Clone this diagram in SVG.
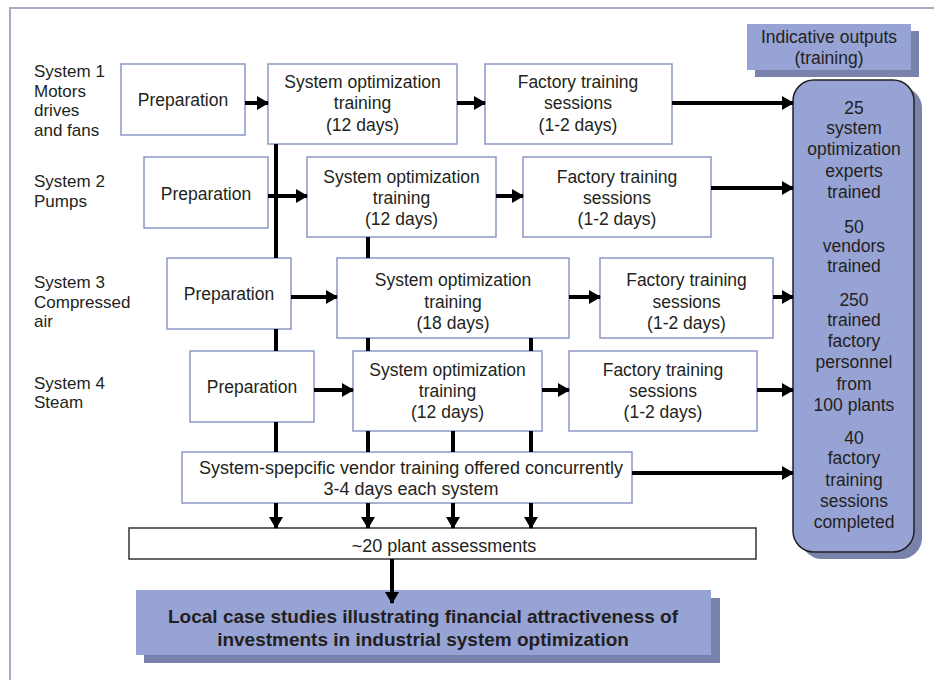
<svg xmlns="http://www.w3.org/2000/svg" width="934" height="680" viewBox="0 0 934 680">
<defs>
<style>
text{font-family:"Liberation Sans",Arial,sans-serif;font-size:17.5px;fill:#231f20;}
.c{text-anchor:middle;}
.lbl{font-size:17px;}
.box{fill:#ffffff;stroke:#8c97c8;stroke-width:1.5;}
.blue{fill:#97a3d4;}
.shadow{fill:#7882ab;}
.conn{fill:none;stroke:#000;stroke-width:4;marker-end:url(#arr);}
.b{font-weight:bold;font-size:19px;}
</style>
<marker id="arr" markerUnits="userSpaceOnUse" markerWidth="12" markerHeight="14" refX="11" refY="7" orient="auto">
<path d="M0,0 L12,7 L0,14 z" fill="#000"/>
</marker>
</defs>
<rect width="934" height="680" fill="#fff"/>
<path d="M10,680 V8 H934" fill="none" stroke="#a9aacb" stroke-width="2"/>

<g id="labels">
<text class="lbl" x="34" y="77">System 1</text>
<text class="lbl" x="34" y="96.5">Motors</text>
<text class="lbl" x="34" y="116">drives</text>
<text class="lbl" x="34" y="135.5">and fans</text>
<text class="lbl" x="34" y="187">System 2</text>
<text class="lbl" x="34" y="206.5">Pumps</text>
<text class="lbl" x="34" y="288">System 3</text>
<text class="lbl" x="34" y="307.5">Compressed</text>
<text class="lbl" x="34" y="327">air</text>
<text class="lbl" x="34" y="388.5">System 4</text>
<text class="lbl" x="34" y="408">Steam</text>
</g>

<g id="prep1"><rect class="box" x="121" y="64" width="124" height="71"/><text class="c" x="183" y="106">Preparation</text></g>
<g id="opt1"><rect class="box" x="268" y="64" width="189" height="80"/><text class="c" x="362.5" y="88">System optimization</text><text class="c" x="362.5" y="109">training</text><text class="c" x="362.5" y="131">(12 days)</text></g>
<g id="fact1"><rect class="box" x="485" y="64" width="187" height="80"/><text class="c" x="578" y="88">Factory training</text><text class="c" x="578" y="109">sessions</text><text class="c" x="578" y="131">(1-2 days)</text></g>

<g id="prep2"><rect class="box" x="144" y="157" width="124" height="71"/><text class="c" x="206" y="200">Preparation</text></g>
<g id="opt2"><rect class="box" x="307" y="157" width="189" height="80"/><text class="c" x="401.5" y="183">System optimization</text><text class="c" x="401.5" y="204">training</text><text class="c" x="401.5" y="225">(12 days)</text></g>
<g id="fact2"><rect class="box" x="523" y="157" width="188" height="80"/><text class="c" x="617" y="183">Factory training</text><text class="c" x="617" y="204">sessions</text><text class="c" x="617" y="225">(1-2 days)</text></g>

<g id="prep3"><rect class="box" x="167" y="258" width="124" height="71"/><text class="c" x="229" y="300">Preparation</text></g>
<g id="opt3"><rect class="box" x="337" y="258" width="232" height="80"/><text class="c" x="453" y="286">System optimization</text><text class="c" x="453" y="308">training</text><text class="c" x="453" y="329">(18 days)</text></g>
<g id="fact3"><rect class="box" x="600" y="258" width="173" height="80"/><text class="c" x="686.5" y="286">Factory training</text><text class="c" x="686.5" y="308">sessions</text><text class="c" x="686.5" y="329">(1-2 days)</text></g>

<g id="prep4"><rect class="box" x="190" y="351" width="124" height="71"/><text class="c" x="252" y="393">Preparation</text></g>
<g id="opt4"><rect class="box" x="353" y="351" width="189" height="80"/><text class="c" x="447.5" y="376">System optimization</text><text class="c" x="447.5" y="397">training</text><text class="c" x="447.5" y="418">(12 days)</text></g>
<g id="fact4"><rect class="box" x="569" y="351" width="188" height="80"/><text class="c" x="663" y="376">Factory training</text><text class="c" x="663" y="397">sessions</text><text class="c" x="663" y="418">(1-2 days)</text></g>

<g id="vendor"><rect class="box" x="182" y="452" width="450" height="51"/><text class="c" x="411" y="474" style="font-size:18px">System-spepcific vendor training offered concurrently</text><text class="c" x="411" y="495" style="font-size:18px">3-4 days each system</text></g>

<g id="assess"><rect x="129" y="528" width="627" height="31" fill="#fff" stroke="#333" stroke-width="1.5"/><text class="c" x="444" y="552" style="font-size:18px">~20 plant assessments</text></g>

<g id="casestudies"><rect class="shadow" x="144" y="598" width="576" height="65"/><rect class="blue" x="136" y="590" width="575" height="65"/><text class="c b" x="423" y="623">Local case studies illustrating financial attractiveness of</text><text class="c b" x="423" y="646">investments in industrial system optimization</text></g>

<g id="indicative"><rect class="shadow" x="755" y="31" width="164" height="46"/><rect class="blue" x="747" y="24" width="164" height="46"/><text class="c" x="829" y="43">Indicative outputs</text><text class="c" x="829" y="64">(training)</text></g>

<g id="outputs"><rect class="shadow" x="801" y="87" width="121" height="472" rx="21"/><rect class="blue" x="793" y="80" width="121" height="472" rx="21" stroke="#222" stroke-width="1.5"/>
<text class="c" x="854" y="114">25</text><text class="c" x="854" y="134">system</text><text class="c" x="854" y="155">optimization</text><text class="c" x="854" y="177">experts</text><text class="c" x="854" y="198">trained</text>
<text class="c" x="854" y="233">50</text><text class="c" x="854" y="252">vendors</text><text class="c" x="854" y="272">trained</text>
<text class="c" x="854" y="306">250</text><text class="c" x="854" y="326">trained</text><text class="c" x="854" y="347">factory</text><text class="c" x="854" y="368">personnel</text><text class="c" x="854" y="390">from</text><text class="c" x="854" y="411">100 plants</text>
<text class="c" x="854" y="444">40</text><text class="c" x="854" y="464">factory</text><text class="c" x="854" y="486">training</text><text class="c" x="854" y="507">sessions</text><text class="c" x="854" y="528">completed</text>
</g>

<g id="connectors">
<path class="conn" d="M245,103 H268"/>
<path class="conn" d="M457,103 H485"/>
<path class="conn" d="M672,103 H793"/>
<path class="conn" d="M268,196 H307"/>
<path class="conn" d="M496,196 H523"/>
<path class="conn" d="M711,188 H793"/>
<path class="conn" d="M291,297 H337"/>
<path class="conn" d="M569,297 H600"/>
<path class="conn" d="M773,297 H793"/>
<path class="conn" d="M314,390 H353"/>
<path class="conn" d="M542,390 H569"/>
<path class="conn" d="M757,390 H793"/>
<path class="conn" d="M632,473 H793"/>
<path class="conn" d="M276,144 V258 M276,329 V351 M276,422 V452 M276,503 V528"/>
<path class="conn" d="M368,237 V258 M368,338 V351 M368,431 V452 M368,503 V528"/>
<path class="conn" d="M453,431 V452 M453,503 V528"/>
<path class="conn" d="M531,338 V351 M531,431 V452 M531,503 V528"/>
<path class="conn" d="M392,559 V603"/>
</g>
</svg>
